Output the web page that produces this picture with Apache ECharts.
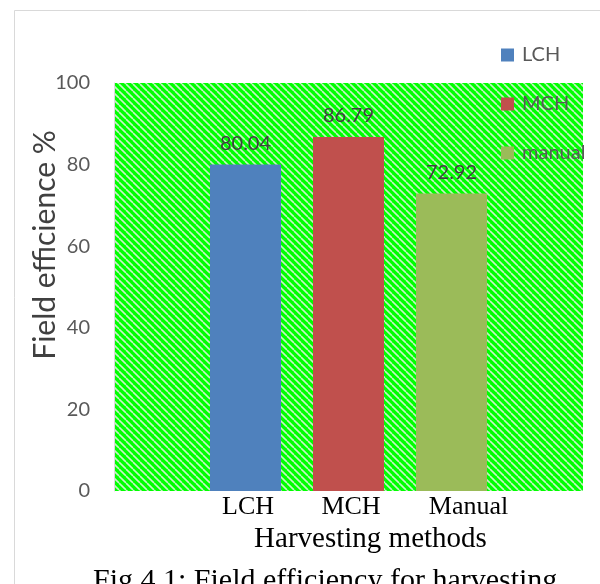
<!DOCTYPE html>
<html>
<head>
<meta charset="utf-8">
<script src="https://cdn.jsdelivr.net/npm/echarts@6/dist/echarts.min.js"></script>
<style>
html,body{margin:0;padding:0;background:#fff;}
#chart{width:600px;height:584px;}
</style>
</head>
<body>
<div id="chart"></div>
<script>
const categories = ['LCH', 'MCH', 'Manual'];
const seriesNames = ['LCH', 'MCH', 'manual'];
const values = [80.04, 86.79, 72.92];
const colors = ['#4f81bd', '#c0504d', '#9bbb59'];
const yMin = 0, yMax = 100, yStep = 20;

// diagonal stripe tile for the plot area
function makeTile() {
  const n = 7;
  const c = document.createElement('canvas');
  c.width = n; c.height = n;
  const g = c.getContext('2d');
  g.fillStyle = '#00ff00';
  g.fillRect(0, 0, n, n);
  g.strokeStyle = '#c8f2c8';
  g.lineWidth = 1.6;
  for (const d of [-n, 0, n]) {
    g.beginPath();
    g.moveTo(d, 0);
    g.lineTo(d + n, n);
    g.stroke();
  }
  return c;
}

const chart = echarts.init(document.getElementById('chart'), null, {renderer: 'canvas'});

const series = seriesNames.map((name, i) => ({
  name: name,
  type: 'bar',
  xAxisIndex: 1,
  yAxisIndex: 1,
  barWidth: 71,
  barGap: '-100%',
  itemStyle: {color: colors[i]},
  label: {
    show: true,
    position: 'top',
    distance: 11,
    color: '#404040',
    fontFamily: 'Lato',
    fontSize: 20
  },
  data: categories.map((c, j) => (j === i ? values[i] : '-'))
}));

const option = {
  animation: false,
  backgroundColor: '#ffffff',
  graphic: [{
    type: 'rect',
    left: 12, top: 8,
    shape: {width: 620, height: 620},
    style: {fill: 'none', stroke: '#d9d9d9', lineWidth: 1}
  }],
  legend: {
    orient: 'vertical',
    left: 496,
    top: 40,
    itemWidth: 13,
    itemHeight: 13,
    itemGap: 29,
    icon: 'rect',
    textStyle: {color: '#595959', fontFamily: 'Lato', fontSize: 20, padding: [0, 0, 0, 3]},
    data: seriesNames
  },
  title: {
    text: 'Fig 4.1: Field efficiency for harvesting',
    left: 88,
    top: 561,
    textStyle: {fontFamily: 'Liberation Serif', fontWeight: 'normal', fontSize: 30, color: '#000'}
  },
  grid: [
    {left: 114, right: 17, top: 83, height: 408, show: true, borderWidth: 0,
     backgroundColor: {image: makeTile(), repeat: 'repeat'}},
    {left: 194, width: 309, top: 83, height: 408}
  ],
  xAxis: [
    {type: 'category', gridIndex: 0, data: [''], show: false},
    {type: 'category', gridIndex: 1, data: categories,
     axisLine: {show: false}, axisTick: {show: false},
     axisLabel: {
       interval: 0,
       hideOverlap: false,
       margin: 3,
       color: '#000',
       fontFamily: 'Liberation Serif',
       fontSize: 26,
       formatter: function (v) { return v === 'Manual' ? '{m|' + v + '}' : '{n|' + v + '}'; },
       rich: {
         n: {fontFamily: 'Liberation Serif', fontSize: 26, color: '#000', padding: [0, 0, 0, 5]},
         m: {fontFamily: 'Liberation Serif', fontSize: 26, color: '#000', padding: [0, 0, 0, 34]}
       }
     },
     name: 'Harvesting methods',
     nameLocation: 'middle',
     nameGap: 29,
     nameTextStyle: {fontFamily: 'Liberation Serif', fontSize: 29, color: '#000', padding: [0, 0, 0, 44]}
    }
  ],
  yAxis: [
    {type: 'value', gridIndex: 0, min: yMin, max: yMax, interval: yStep,
     axisLine: {show: true, lineStyle: {color: '#d9d9d9'}},
     axisTick: {show: false},
     splitLine: {show: false},
     axisLabel: {color: '#595959', fontFamily: 'Lato', fontSize: 20, margin: 24},
     name: 'Field efficience %',
     nameLocation: 'middle',
     nameMoveOverlap: false,
     nameGap: 54,
     nameTextStyle: {color: '#404040', fontFamily: 'Lato', fontSize: 30, padding: [0, 0, 0, 84]}
    },
    {type: 'value', gridIndex: 1, min: yMin, max: yMax, interval: yStep, show: false}
  ],
  series: series
};

chart.setOption(option);
</script>
</body>
</html>
